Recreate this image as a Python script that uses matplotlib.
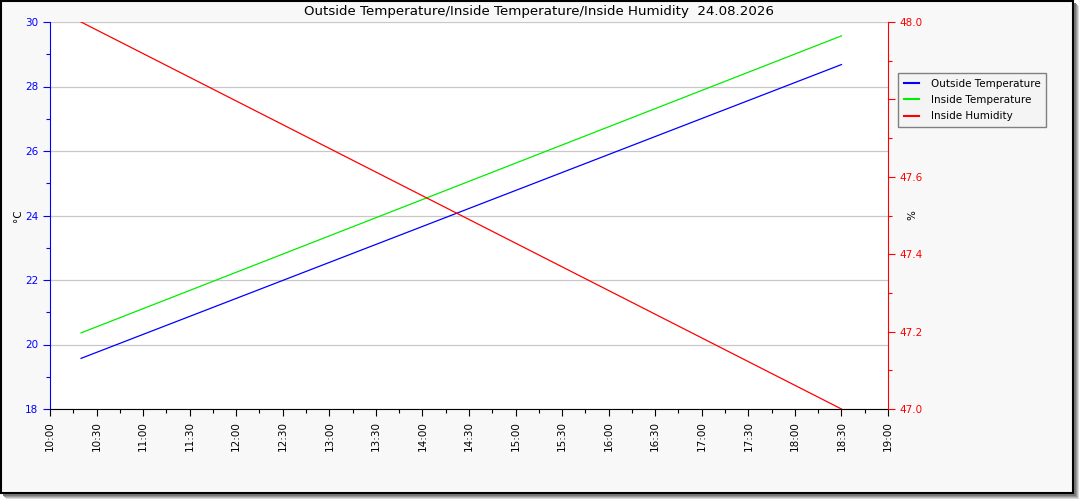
import matplotlib
matplotlib.use('Agg')
import matplotlib.pyplot as plt
import matplotlib.dates as mdates
from matplotlib.patches import Rectangle
import pandas as pd

# data
times = ["2026-08-24 10:20", "2026-08-24 18:30"]
outside_temp = [19.57, 28.68]
inside_temp = [20.36, 29.57]
inside_hum = [48.0, 47.0]

title = "Outside Temperature/Inside Temperature/Inside Humidity  24.08.2026"
x_start = "2026-08-24 10:00"
x_end = "2026-08-24 19:00"

plt.rcParams['font.family'] = ['DejaVu Sans']
W, H = 1080, 500
fig = plt.figure(figsize=(W / 100, H / 100), dpi=100)
fig.patch.set_facecolor('white')

# frame with drop shadow
for i, c in enumerate(['#d8d8d8', '#b8b8b8', '#989898', '#787878']):
    off = 5 - i
    fig.patches.append(Rectangle(((off + 1) / W, (H - 494 - off) / H), 1073 / W, 493 / H,
                                 transform=fig.transFigure, facecolor=c, edgecolor='none', zorder=-3))
fig.patches.append(Rectangle((1 / W, (H - 493) / H), 1072 / W, 492 / H,
                             transform=fig.transFigure, facecolor='#f8f8f8',
                             edgecolor='black', linewidth=1.5, zorder=-2))

t = pd.to_datetime(times)
ax1 = fig.add_axes([50 / W, (H - 409) / H, 838 / W, 387 / H])
ax1.set_facecolor('white')
ax1.plot(t, outside_temp, color='#0000ff', linewidth=0.9, label='Outside Temperature')
ax1.plot(t, inside_temp, color='#00ee00', linewidth=0.9, label='Inside Temperature')
ax1.set_ylim(18, 30)
ax1.set_xlim(pd.Timestamp(x_start), pd.Timestamp(x_end))
ax1.set_yticks(range(18, 31, 2))
ax1.set_yticks(range(18, 31), minor=True)
ax1.yaxis.grid(True, color='#c8c8c8', linewidth=0.9)
ax1.set_axisbelow(True)
ax1.xaxis.set_major_locator(mdates.MinuteLocator(byminute=[0, 30]))
ax1.xaxis.set_minor_locator(mdates.MinuteLocator(byminute=[15, 45]))
ax1.xaxis.set_major_formatter(mdates.DateFormatter('%H:%M'))
ax1.tick_params(axis='x', which='major', rotation=90, labelsize=7.5, length=5, width=0.8, color='black')
ax1.tick_params(axis='x', which='minor', length=3, width=0.8, color='black')
ax1.tick_params(axis='y', which='major', colors='#0000ff', labelsize=7.5, length=5, width=0.8)
ax1.tick_params(axis='y', which='minor', colors='#0000ff', length=3, width=0.8)
ax1.set_ylabel('°C', fontsize=7.5)
ax1.yaxis.set_label_coords(-27 / 838, 0.5)
ax1.spines['left'].set_color('#0000ff')
ax1.spines['top'].set_visible(False)
ax1.spines['right'].set_visible(False)
ax1.spines['bottom'].set_color('black')

ax2 = ax1.twinx()
ax2.plot(t, inside_hum, color='#ff0000', linewidth=0.9, label='Inside Humidity')
ax2.set_ylim(47.0, 48.0)
ax2.set_yticks([47.0, 47.2, 47.4, 47.6, 47.8, 48.0])
ax2.set_yticks([47.1, 47.3, 47.5, 47.7, 47.9], minor=True)
ax2.yaxis.set_major_formatter(matplotlib.ticker.FormatStrFormatter('%.1f'))
ax2.tick_params(axis='y', which='major', colors='#ff0000', labelsize=7.5, length=5, width=0.8)
ax2.tick_params(axis='y', which='minor', colors='#ff0000', length=3, width=0.8)
ax2.set_ylabel('%', fontsize=7.5)
ax2.yaxis.set_label_coords(1 + 19 / 838, 0.5)
ax2.spines['right'].set_color('#ff0000')
for s in ['top', 'left', 'bottom']:
    ax2.spines[s].set_visible(False)

fig.text(539 / W, 1 - 11 / H, title, ha='center', va='center', fontsize=9.6)

lines = ax1.get_lines() + ax2.get_lines()
lgd = fig.legend(lines, [l.get_label() for l in lines], loc='upper left',
                 bbox_to_anchor=(898 / W, 1 - 73 / H), fontsize=7.5, fancybox=False,
                 framealpha=1, borderaxespad=0, handlelength=1.5, handletextpad=1.1,
                 labelspacing=0.6, borderpad=0.55)
lgd.get_frame().set_edgecolor('#808080')
lgd.get_frame().set_facecolor('#f4f4f4')
lgd.get_frame().set_linewidth(1.0)
for l in lgd.get_lines():
    l.set_linewidth(1.5)

fig.savefig('out.png', dpi=100)
